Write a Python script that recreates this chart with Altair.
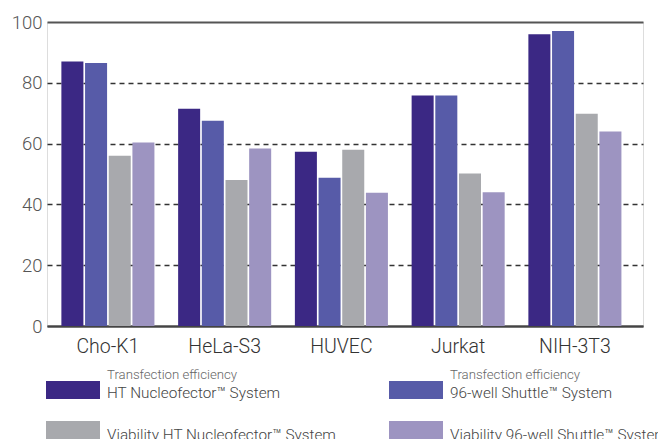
import altair as alt
import pandas as pd

# ---- data ----
cell_lines = ["Cho-K1", "HeLa-S3", "HUVEC", "Jurkat", "NIH-3T3"]
series = [
    "Transfection efficiency HT Nucleofector™ System",
    "Transfection efficiency 96-well Shuttle™ System",
    "Viability HT Nucleofector™ System",
    "Viability 96-well Shuttle™ System",
]
te_ht = [87.0, 71.5, 57.3, 75.8, 96.0]
te_96 = [86.5, 67.5, 48.8, 75.8, 97.0]
via_ht = [56.0, 48.0, 58.0, 50.2, 69.8]
via_96 = [60.4, 58.4, 43.8, 44.0, 64.0]
y_ticks = [0, 20, 40, 60, 80, 100]

legend_sub = ["Transfection efficiency", "Transfection efficiency", "", ""]
legend_main = ["HT Nucleofector™ System", "96-well Shuttle™ System",
               "Viability HT Nucleofector™ System", "Viability 96-well Shuttle™ System"]

colors = ["#3b2884", "#575ba8", "#a8a9ad", "#9d94c1"]

# ---- layout constants ----
W, H = 596, 304
FONT = "Roboto"

rows = []
for vals, s in zip([te_ht, te_96, via_ht, via_96], series):
    for c, v in zip(cell_lines, vals):
        rows.append({"cell": c, "series": s, "value": v})
df = pd.DataFrame(rows)

# legend layout computed from index
SW_X0, SW_W, SW_H, COL_STEP = -1, 54, 18, 343
ROW_Y0, ROW_STEP = 359, 40
leg_rows = []
for i, s in enumerate(series):
    col, row = i % 2, i // 2
    x0 = SW_X0 + col * COL_STEP
    y0 = ROW_Y0 + row * ROW_STEP
    leg_rows.append({
        "series": s, "sub": legend_sub[i], "main": legend_main[i],
        "x0": x0, "x1": x0 + SW_W, "y0": y0, "y1": y0 + SW_H,
        "tx": x0 + SW_W + 7, "ty_main": y0 + SW_H / 2 + 3 + (0 if legend_sub[i] else 2),
        "ty_sub": y0 + SW_H / 2 - 15,
    })
leg = pd.DataFrame(leg_rows)

color_scale = alt.Scale(domain=series, range=colors)

solid_test = "datum.value === 100 || datum.value === 0"

bars = alt.Chart(df).mark_bar(cornerRadius=0).encode(
    x=alt.X("cell:N", sort=cell_lines, title=None,
            scale=alt.Scale(paddingInner=0.203, paddingOuter=0.154, align=0.4),
            axis=alt.Axis(labelAngle=0, ticks=False, domain=True, domainColor="#444",
                          domainWidth=2, labelFontSize=19.5, labelColor="#333",
                          labelFont=FONT, labelFontWeight=300, labelPadding=11,
                          grid=False)),
    xOffset=alt.XOffset("series:N", sort=series, scale=alt.Scale(paddingInner=0.07)),
    y=alt.Y("value:Q", title=None,
            scale=alt.Scale(domain=[0, 100], nice=False),
            axis=alt.Axis(values=y_ticks, domain=False, ticks=False, labelFontSize=18.5,
                          labelColor="#555", labelFont=FONT, labelFontWeight=300,
                          labelPadding=5, grid=True,
                          gridColor={"condition": {"test": solid_test, "value": "#555"}, "value": "#333"},
                          gridDash={"condition": {"test": solid_test, "value": []}, "value": [5, 4]},
                          gridWidth={"condition": {"test": solid_test, "value": 2}, "value": 1.3})),
    color=alt.Color("series:N", scale=color_scale, legend=None),
)

sx = alt.Scale(domain=[0, W], range=[0, W], nice=False, zero=False)
sy = alt.Scale(domain=[0, H], range=[0, H], nice=False, zero=False)

swatch = alt.Chart(leg).mark_rect().encode(
    x=alt.X("x0:Q", scale=sx, axis=None), x2="x1:Q",
    y=alt.Y("y0:Q", scale=sy, axis=None), y2="y1:Q",
    color=alt.Color("series:N", scale=color_scale, legend=None),
)
main_txt = alt.Chart(leg).mark_text(align="left", baseline="middle", font=FONT,
                                    fontWeight=300, fontSize=15.3, color="#444").encode(
    x=alt.X("tx:Q", scale=sx, axis=None),
    y=alt.Y("ty_main:Q", scale=sy, axis=None),
    text="main:N",
)
sub_txt = alt.Chart(leg).mark_text(align="left", baseline="middle", font=FONT,
                                   fontWeight=300, fontSize=13.2, color="#666").encode(
    x=alt.X("tx:Q", scale=sx, axis=None),
    y=alt.Y("ty_sub:Q", scale=sy, axis=None),
    text="sub:N",
)

legend_layer = alt.layer(swatch, main_txt, sub_txt)

chart = alt.layer(bars, legend_layer).resolve_scale(
    x="independent", y="independent"
).properties(
    width=W, height=H,
    autosize=alt.AutoSizeParams(type="none"),
    padding={"left": 39, "top": 14, "right": 15, "bottom": 130},
).configure_view(stroke=None).configure(background="white")

chart.save("out.html", embed_options={"renderer": "svg", "actions": False})
